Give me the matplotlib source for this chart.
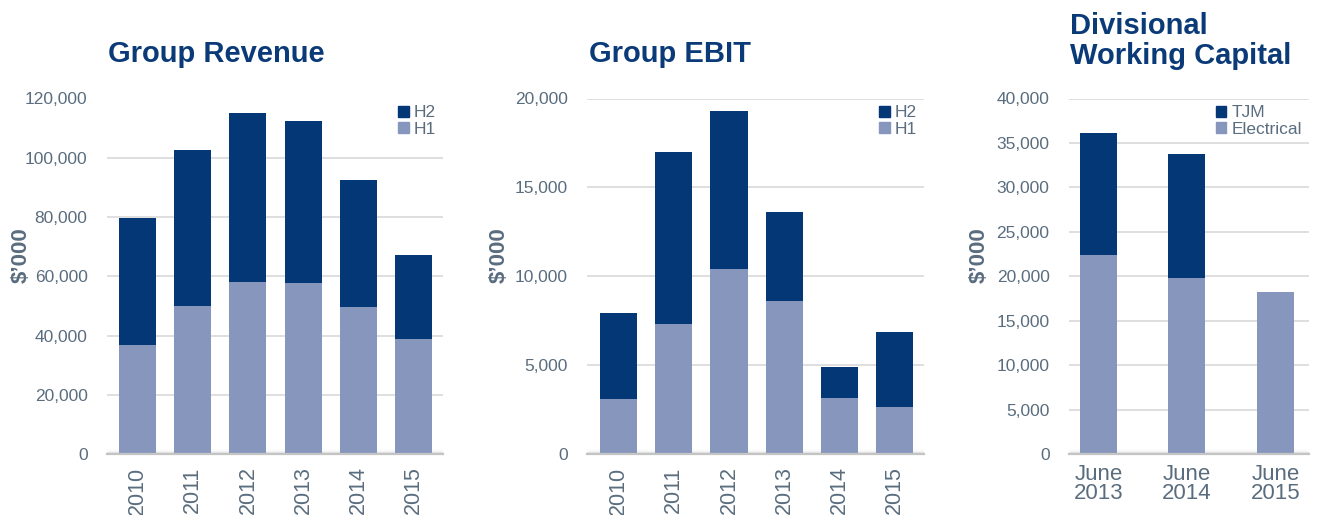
import matplotlib
matplotlib.use("Agg")
import matplotlib.pyplot as plt
from matplotlib.patches import Patch
import numpy as np

plt.rcParams['font.family'] = ['Liberation Sans', 'DejaVu Sans']

# ---- data ----
years = ["2010", "2011", "2012", "2013", "2014", "2015"]
revenue_h1 = [36800, 49900, 58000, 57700, 49600, 38800]
revenue_h2 = [42900, 52700, 57100, 54700, 42900, 28400]
ebit_h1 = [3090, 7310, 10400, 8600, 3150, 2640]
ebit_h2 = [4840, 9670, 8890, 5010, 1740, 4220]
wc_periods = ["June\n2013", "June\n2014", "June\n2015"]
wc_electrical = [22400, 19850, 18200]
wc_tjm = [13700, 13950, 0]

C_DARK = "#033775"
C_LIGHT = "#8796bd"
C_TITLE = "#0b3a78"
C_TEXT = "#5a6d7e"
C_GRID = "#dcdcdc"

W, H = 1317, 515
fig = plt.figure(figsize=(W / 100, H / 100), dpi=100)


def fx(px):
    return px / W


def fy(py):
    return 1 - py / H


def make_axes(left_px, right_px, xlim, cats, low, high, ymax, step,
              legend_labels, rotate):
    ax = fig.add_axes([fx(left_px), fy(454), fx(right_px - left_px), (454 - 98.5) / H])
    x = np.arange(len(cats))
    width = 0.67 if rotate else 0.42
    ax.bar(x, low, width=width, color=C_LIGHT, zorder=3)
    ax.bar(x, high, bottom=low, width=width, color=C_DARK, zorder=3)
    ax.set_xlim(*xlim)
    ax.set_ylim(0, ymax)
    ax.set_yticks(np.arange(0, ymax + 1, step))
    ax.yaxis.set_major_formatter(matplotlib.ticker.FuncFormatter(lambda v, p: f"{int(v):,}"))
    ax.grid(axis='y', color=C_GRID, lw=1.3, zorder=0)
    for s in ax.spines.values():
        s.set_visible(False)
    ax.tick_params(axis='y', length=0, pad=14, labelsize=12.5, labelcolor=C_TEXT)
    ax.set_xticks(x)
    if rotate:
        ax.set_xticklabels(cats, rotation=90, va='top', ha='center')
        ax.tick_params(axis='x', length=0, pad=9, labelsize=15.5, labelcolor=C_TEXT)
    else:
        ax.set_xticklabels(cats, linespacing=0.92)
        ax.tick_params(axis='x', length=0, pad=7, labelsize=16, labelcolor=C_TEXT)
    # baseline with soft shadow
    ax.axhline(0, color="#c4c4c4", lw=1.6, zorder=4, clip_on=False)
    for i, a in enumerate([0.10, 0.06, 0.03]):
        ax.plot(ax.get_xlim(), [0, 0], color="#808080", lw=3 + 2 * i, alpha=a,
                zorder=2, solid_capstyle='butt')
    handles = [Patch(color=C_DARK, label=legend_labels[0]),
               Patch(color=C_LIGHT, label=legend_labels[1])]
    leg = ax.legend(handles=handles, loc='upper right', bbox_to_anchor=(1.0, 1.0),
                    frameon=False, fontsize=12.5, handlelength=0.6, handleheight=0.6,
                    handletextpad=0.3, labelspacing=0.08, borderaxespad=0.2,
                    borderpad=0.2)
    for t in leg.get_texts():
        t.set_color(C_TEXT)
    return ax


make_axes(107, 443, (-0.55, 5.53), years, revenue_h1, revenue_h2, 120000, 20000,
          ["H2", "H1"], True)
make_axes(587.3, 924, (-0.565, 5.53), years, ebit_h1, ebit_h2, 20000, 5000,
          ["H2", "H1"], True)
make_axes(1069, 1309, (-0.333, 2.38), wc_periods, wc_electrical, wc_tjm, 40000, 5000,
          ["TJM", "Electrical"], False)

# titles
TS = 21
fig.text(fx(108), fy(62), "Group Revenue", fontsize=TS, fontweight='bold',
         color=C_TITLE, va='baseline', ha='left')
fig.text(fx(589), fy(62), "Group EBIT", fontsize=TS, fontweight='bold',
         color=C_TITLE, va='baseline', ha='left')
fig.text(fx(1070), fy(34), "Divisional", fontsize=TS, fontweight='bold',
         color=C_TITLE, va='baseline', ha='left')
fig.text(fx(1070), fy(64), "Working Capital", fontsize=TS, fontweight='bold',
         color=C_TITLE, va='baseline', ha='left')

# y labels
for xc in (21, 499, 979):
    fig.text(fx(xc), fy(255), "$\u2019000", rotation=90, fontsize=16, fontweight='bold',
             color=C_TEXT, va='center', ha='center')

fig.savefig("out.png", dpi=100)
